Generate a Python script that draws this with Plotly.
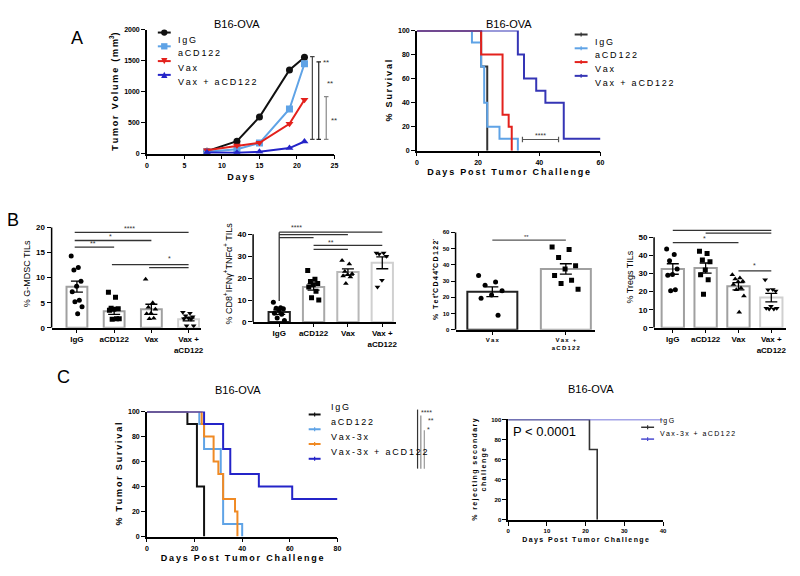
import plotly.graph_objects as go

W, H = 800, 576
FONT = "Liberation Sans"

# ---------------- data ----------------
# A (left): tumour volume
a_days = [8, 12, 15, 19, 21]
a_igg = [40, 200, 590, 1350, 1555]
a_cd122 = [30, 70, 170, 720, 1450]
a_vax = [55, 130, 175, 480, 870]
a_vaxcd122 = [20, 15, 30, 90, 195]

# A (right): survival steps
sa_igg_t, sa_igg_s = [0, 21, 23], [100, 70, 0]
sa_cd122_t, sa_cd122_s = [0, 18, 21, 22, 23, 27, 33], [100, 90, 70, 40, 20, 10, 0]
sa_vax_t, sa_vax_s = [0, 21, 28, 30, 31], [100, 80, 30, 20, 0]
sa_vc_t, sa_vc_s = [0, 33, 35, 39, 42, 48, 60], [100, 80, 60, 50, 40, 10, 10]

# B panels
cats4 = ["IgG", "aCD122", "Vax", "Vax +<br>aCD122"]
cats2 = ["Vax", "Vax +<br>aCD122"]

b1_mean = [8.2, 3.3, 3.7, 1.7]
b1_sem = [1.1, 0.6, 1.0, 0.3]
b1_pts = [[14.3, 12.0, 11.5, 9.3, 8.3, 7.2, 5.5, 5.2, 4.2, 2.8],
          [7.1, 6.1, 3.9, 3.8, 3.7, 3.5, 1.8, 1.7, 1.8],
          [9.7, 5.0, 4.1, 3.7, 2.9, 2.8, 1.9, 1.8],
          [3.1, 2.9, 2.4, 2.2, 2.0, 1.8, 1.7, 0.4, 0.4]]

b2_mean = [4.5, 16.0, 22.8, 27.0]
b2_sem = [1.0, 1.5, 1.4, 2.7]
b2_pts = [[9.0, 6.5, 6.2, 6.0, 5.5, 4.0, 3.5, 1.8, 0.7],
          [23.5, 19.5, 18.5, 17.5, 17.0, 16.0, 14.0, 11.0, 10.0],
          [28.0, 26.5, 23.0, 22.0, 21.5, 21.0, 20.5, 17.5],
          [31.5, 31.5, 31.0, 30.0, 19.0, 16.0]]

b3_mean = [23.5, 37.5]
b3_sem = [3.0, 3.2]
b3_pts = [[33.5, 29.5, 27.5, 24.0, 21.5, 19.5, 9.0],
          [51.0, 49.5, 44.5, 39.5, 37.5, 33.5, 30.5, 28.5, 25.0]]

b4_mean = [32.5, 33.0, 23.0, 16.7]
b4_sem = [2.9, 2.8, 2.0, 2.3]
b4_pts = [[43.5, 40.5, 37.0, 32.5, 29.5, 29.0, 21.0, 20.5],
          [42.3, 41.0, 37.4, 36.5, 32.0, 29.3, 26.6, 18.5],
          [29.3, 27.5, 27.0, 25.7, 25.5, 24.0, 22.0, 21.0, 17.6, 8.6],
          [26.6, 21.2, 21.0, 20.3, 11.9, 10.8, 10.4, 10.4, 10.8]]

# C (left): survival steps
sc_igg_t, sc_igg_s = [0, 17, 21, 24], [100, 90, 40, 0]
sc_cd122_t, sc_cd122_s = [0, 22, 24, 31, 32, 40], [100, 90, 70, 50, 10, 0]
sc_vax_t, sc_vax_s = [0, 23, 24, 28, 30, 32, 37, 38], [100, 90, 80, 60, 50, 30, 20, 0]
sc_vc_t, sc_vc_s = [0, 24, 32, 35, 47, 61, 80], [100, 90, 70, 50, 40, 30, 30]

# C (right)
sd_igg_t, sd_igg_s = [0, 21, 23], [100, 70, 0]
sd_vc_t, sd_vc_s = [0, 40], [100, 100]

BLACK = "#111111"
LBLUE = "#5fa3e6"
RED = "#e3211c"
BLUE = "#2424c8"
DBLUE = "#3535b5"
ORANGE = "#f08a24"


def sp(s):
    # prism-like letter spacing, keeps <br> intact
    return "<br>".join("\u2009".join(part) for part in s.split("<br>"))


def px(x):
    return x / W


def py(y):
    return 1 - y / H


def dx(a, b):
    return [px(a), px(b)]


def dy(top, bottom):
    return [py(bottom), py(top)]


def bdom(y0px, ymaxpx, ymax, ext):
    k = (y0px - ymaxpx) / ymax
    return dy(y0px - k * ext, y0px)


def jitter(n, spread):
    return [((i * 0.618) % 1 - 0.5) * spread for i in range(n)]


fig = go.Figure()

# ---------- A left ----------
a_series = [("IgG", a_igg, BLACK, "circle"),
            ("aCD122", a_cd122, LBLUE, "square"),
            ("Vax", a_vax, RED, "triangle-down"),
            ("Vax + aCD122", a_vaxcd122, BLUE, "triangle-up")]
for name, y, c, sym in a_series:
    fig.add_trace(go.Scatter(x=a_days, y=y, name=name, mode="lines+markers",
                             line=dict(color=c, width=2), marker=dict(color=c, size=7, symbol=sym),
                             xaxis="x", yaxis="y", showlegend=False))

# ---------- A right ----------
sa_series = [("IgG", sa_igg_t, sa_igg_s, "#333333"),
             ("aCD122", sa_cd122_t, sa_cd122_s, LBLUE),
             ("Vax", sa_vax_t, sa_vax_s, RED),
             ("Vax + aCD122", sa_vc_t, sa_vc_s, DBLUE)]
for name, t, s, c in sa_series:
    fig.add_trace(go.Scatter(x=t, y=s, name=name, mode="lines", line=dict(color=c, width=2, shape="hv"),
                             xaxis="x2", yaxis="y2", showlegend=False))

# ---------- B panels ----------
syms4 = ["circle", "square", "triangle-up", "triangle-down"]
b_panels = [
    (3, cats4, b1_mean, b1_sem, b1_pts, ["#a0a0a0", "#a0a0a0", "#a0a0a0", "#d0d0d0"], syms4, 0.56),
    (4, cats4, b2_mean, b2_sem, b2_pts, ["#222222", "#a8a8a8", "#b8b8b8", "#d0d0d0"], syms4, 0.62),
    (5, cats2, b3_mean, b3_sem, b3_pts, ["#222222", "#a0a0a0"], ["circle", "square"], 0.68),
    (6, cats4, b4_mean, b4_sem, b4_pts, ["#a0a0a0", "#a0a0a0", "#a0a0a0", "#d0d0d0"], syms4, 0.68),
]
for k, cats, mean, sem, pts, outl, syms, bw in b_panels:
    xs = list(range(len(cats)))
    fig.add_trace(go.Bar(x=xs, y=mean, width=bw, marker=dict(color="white", line=dict(color=outl, width=2)),
                         error_y=dict(type="data", array=sem, color="black", thickness=1.3, width=6),
                         xaxis=f"x{k}", yaxis=f"y{k}", showlegend=False))
    for i, p in enumerate(pts):
        jx = [i + j for j in jitter(len(p), bw * 0.55)]
        fig.add_trace(go.Scatter(x=jx, y=p, mode="markers",
                                 marker=dict(color="black", size=5, symbol=syms[i]),
                                 xaxis=f"x{k}", yaxis=f"y{k}", showlegend=False))

# ---------- C left ----------
sc_series = [("IgG", sc_igg_t, sc_igg_s, BLACK),
             ("aCD122", sc_cd122_t, sc_cd122_s, LBLUE),
             ("Vax-3x", sc_vax_t, sc_vax_s, ORANGE),
             ("Vax-3x + aCD122", sc_vc_t, sc_vc_s, BLUE)]
for name, t, s, c in sc_series:
    fig.add_trace(go.Scatter(x=t, y=s, name=name, mode="lines", line=dict(color=c, width=2, shape="hv"),
                             xaxis="x7", yaxis="y7", showlegend=False))

# ---------- C right ----------
sd_series = [("IgG", sd_igg_t, sd_igg_s, "#333333"),
             ("Vax-3x + aCD122", sd_vc_t, sd_vc_s, "#4a4ad0")]
for name, t, s, c in sd_series:
    fig.add_trace(go.Scatter(x=t, y=s, name=name, mode="lines", line=dict(color=c, width=1.6, shape="hv"),
                             xaxis="x8", yaxis="y8", showlegend=False))

# ---------- axes ----------
tickf = dict(family=FONT, size=7, color="black", weight="bold")
titlef = dict(family=FONT, size=9, color="black", weight="bold")
base = dict(showgrid=False, zeroline=False, showline=True, linecolor="black", linewidth=1.5,
            ticks="outside", ticklen=4, tickwidth=1.2, tickcolor="black", tickfont=tickf)

lay = {}
lay["xaxis"] = dict(base, domain=dx(146, 335), range=[0, 25], tickvals=[0, 5, 10, 15, 20, 25], anchor="y",
                    title=dict(text=sp("Days"), font=titlef, standoff=6))
lay["yaxis"] = dict(base, domain=dy(26, 152), range=[0, 2000], tickvals=[0, 500, 1000, 1500, 2000], anchor="x",
                    title=dict(text=sp("Tumor Volume (mm") + "<sup>3</sup>)", font=titlef, standoff=4))
lay["xaxis2"] = dict(base, domain=dx(418, 603), range=[0, 60], tickvals=[0, 20, 40, 60], anchor="y2",
                     title=dict(text=sp("Days Post Tumor Challenge"), font=titlef, standoff=4))
lay["yaxis2"] = dict(base, domain=dy(27, 149), range=[0, 100], tickvals=[0, 20, 40, 60, 80, 100], anchor="x2",
                     title=dict(text=sp("% Survival"), font=titlef, standoff=4))

b_geo = [
    (3, dx(50, 200), bdom(329, 227, 20, 21.5), [-0.68, 3.32], [0, 21.5], [0, 5, 10, 15, 20], 20, cats4,
     "% G-MDSC TILs"),
    (4, dx(253, 397), bdom(323, 234, 40, 44), [-0.76, 3.4], [0, 44], [0, 10, 20, 30, 40], 40, cats4,
     "% CD8<sup>+</sup>IFNγ<sup>+</sup>TNFα<sup>+</sup> TILs"),
    (5, dx(457, 597), bdom(331, 232, 60, 62), [-0.5, 1.39], [0, 62], [0, 10, 20, 30, 40, 50, 60], 60, cats2,
     sp("% Tet") + "<sup>+</sup>" + sp("CD44") + "<sup>+</sup>" + sp("CD122") + "<sup>-</sup>"),
    (6, dx(657, 790), bdom(329, 237, 50, 56), [-0.57, 3.45], [0, 56], [0, 10, 20, 30, 40, 50], 50, cats4,
     "% Tregs TILs"),
]
shapes = []
for k, xd, yd, xr, yr, tv, ymax, cats, ytitle in b_geo:
    small = k == 5
    xf = dict(family=FONT, size=6 if small else 8, color="black", weight="bold")
    lay[f"xaxis{k}"] = dict(base, domain=xd, range=xr, tickvals=list(range(len(cats))),
                            ticktext=[sp(c) if small else c for c in cats], tickfont=xf, ticklen=3, anchor=f"y{k}")
    lay[f"yaxis{k}"] = dict(base, domain=yd, range=yr, tickvals=tv, showline=False, anchor=f"x{k}",
                            tickfont=dict(family=FONT, size=6 if small else 8, color="black", weight="bold"),
                            title=dict(text=ytitle, font=dict(family=FONT, size=7 if small else 9, color="black",
                                                              weight="bold" if small else "normal"), standoff=3))
    shapes.append(dict(type="line", xref=f"x{k} domain", yref=f"y{k}", x0=0, x1=0, y0=0, y1=ymax,
                       line=dict(color="black", width=1.5)))

lay["xaxis7"] = dict(base, domain=dx(146, 338), range=[0, 80], tickvals=[0, 20, 40, 60, 80], anchor="y7",
                     title=dict(text=sp("Days Post Tumor Challenge"), font=titlef, standoff=4))
lay["yaxis7"] = dict(base, domain=dy(414, 541), range=[0, 100], tickvals=[0, 20, 40, 60, 80, 100], anchor="x7",
                     title=dict(text=sp("% Tumor Survival"), font=titlef, standoff=4))
lay["xaxis8"] = dict(base, domain=dx(510, 666), range=[0, 40], tickvals=[0, 10, 20, 30, 40], anchor="y8",
                     tickfont=dict(tickf, size=6), title=dict(text=sp("Days Post Tumor Challenge"),
                                                              font=dict(titlef, size=7), standoff=4))
lay["yaxis8"] = dict(base, domain=dy(422, 524), range=[0, 100], tickvals=[0, 20, 40, 60, 80, 100], anchor="x8",
                     tickfont=dict(tickf, size=6),
                     title=dict(text=sp("% rejecting secondary") + "<br>" + sp("challenge"),
                                font=dict(titlef, size=7), standoff=4))

# ---------- significance marks ----------
ann = []
GR = "#555555"


def line(xref, yref, x0, y0, x1, y1, color=GR, w=1.2):
    shapes.append(dict(type="line", xref=xref, yref=yref, x0=x0, y0=y0, x1=x1, y1=y1,
                       line=dict(color=color, width=w)))


def txt(xref, yref, x, y, t, size=8, color="#333333", xanchor="center"):
    ann.append(dict(xref=xref, yref=yref, x=x, y=y, text=t, showarrow=False, xanchor=xanchor,
                    font=dict(family=FONT, size=size, color=color)))


# A left brackets
for xb, ytop, col in [(22.05, 1565, "#444444"), (22.9, 1480, "#222222"), (23.9, 920, "#888888")]:
    line("x", "y", xb, 230, xb, ytop, col)
    line("x", "y", xb - 0.3, ytop, xb + 0.3, ytop, col)
    line("x", "y", xb - 0.3, 230, xb + 0.3, 230, col)
txt("x", "y", 23.9, 1470, "**")
txt("x", "y", 24.4, 1130, "**")
txt("x", "y", 25.0, 540, "**")

# A right bracket
line("x2", "y2", 34.5, 9.3, 46.3, 9.3)
line("x2", "y2", 34.5, 7, 34.5, 11.6)
line("x2", "y2", 46.3, 7, 46.3, 11.6)
txt("x2", "y2", 40.4, 13, "****", 7)

# B1
for x0, x1, y in [(0, 3, 19.0), (0, 2, 17.4), (0, 1, 16.1), (1, 3, 12.6), (2, 3, 12.0)]:
    line("x3", "y3", x0 - 0.06, y, x1, y, "#333333", 1.3)
txt("x3", "y3", 1.4, 19.8, "****", 7)
txt("x3", "y3", 0.9, 18.2, "*", 7)
txt("x3", "y3", 0.43, 16.8, "**", 7)
txt("x3", "y3", 2.5, 13.8, "*", 7)

# B2
for x0, x1, y in [(0, 3, 41.0), (0, 2, 39.9), (0, 1, 38.5), (1, 3, 35.0), (1, 2, 33.1)]:
    line("x4", "y4", x0, y, x1, y, "#333333", 1.3)
line("x4", "y4", 0, 9.6, 0, 41.0, "#333333", 1.3)
txt("x4", "y4", 0.5, 43.2, "****", 7)
txt("x4", "y4", 1.52, 36.4, "**", 7)

# B3
line("x5", "y5", 0, 55.2, 1, 55.2, "#555555", 1.3)
txt("x5", "y5", 0.46, 57.0, "**", 6)

# B4
for x0, x1, y in [(0, 3, 53.8), (1, 3, 52.3), (0, 2, 47.1), (2, 3, 31.5)]:
    line("x6", "y6", x0, y, x1, y, "#333333", 1.3)
txt("x6", "y6", 2.09, 56.5, "***", 7)
txt("x6", "y6", 0.98, 49.6, "*", 7)
txt("x6", "y6", 2.5, 34.2, "*", 7)

# C left (outside, paper coords)
for xp, yt, col in [(418.7, 412, "#333333"), (422, 418, "#888888"), (425.5, 433, "#999999")]:
    line("paper", "paper", px(xp), py(yt), px(xp), py(472), col, 1.2)
txt("paper", "paper", px(428), py(421), "****", 7)
txt("paper", "paper", px(432), py(429), "**", 7)
txt("paper", "paper", px(430), py(438), "*", 7)

# P value C right
txt("x8", "y8", 9.4, 88, "P < 0.0001", 13, "black")

# titles and panel letters
for x, y, t in [(237, 12, "B16-OVA"), (511, 12, "B16-OVA"), (238, 400, "B16-OVA"), (593, 399, "B16-OVA")]:
    txt("paper", "paper", px(x), py(y), t, 11, "black")
for x, y, t in [(76, 22, "A"), (11, 219, "B"), (62, 391, "C")]:
    txt("paper", "paper", px(x), py(y), t, 18, "black")


# ---------- hand-drawn legends (compact, prism style) ----------
def marker_shape(cx, cy, sym, color, r=3.2):
    if sym == "circle":
        shapes.append(dict(type="circle", xref="paper", yref="paper", x0=px(cx - r), x1=px(cx + r),
                           y0=py(cy + r), y1=py(cy - r), fillcolor=color, line=dict(width=0)))
    elif sym == "square":
        shapes.append(dict(type="rect", xref="paper", yref="paper", x0=px(cx - r), x1=px(cx + r),
                           y0=py(cy + r), y1=py(cy - r), fillcolor=color, line=dict(width=0)))
    else:
        s = 1 if sym == "triangle-up" else -1
        path = (f"M{px(cx - r)},{py(cy + s * r)} L{px(cx + r)},{py(cy + s * r)} "
                f"L{px(cx)},{py(cy - s * r)} Z")
        shapes.append(dict(type="path", xref="paper", yref="paper", path=path, fillcolor=color,
                           line=dict(width=0)))


def legend(items, x0, x1, xt, ys, size, sym_idx=None):
    for i, it in enumerate(items):
        name, color = it[0], it[-1] if sym_idx is None else it[2]
        y = ys[i]
        line("paper", "paper", px(x0), py(y), px(x1), py(y), color, 2 if size > 8 else 1.5)
        if sym_idx is None:
            cx = (x0 + x1) / 2
            line("paper", "paper", px(cx), py(y - 2), px(cx), py(y + 2), color, 1.2)
        else:
            marker_shape((x0 + x1) / 2, y, it[3], color)
        txt("paper", "paper", px(xt), py(y), sp(name), size, "black", "left")


legend([(n, None, c, s) for n, _, c, s in a_series], 157, 170, 175, [29, 43, 58, 72], 9, sym_idx=True)
legend([(n, c) for n, _, _, c in sa_series], 577, 590, 595, [31, 45, 59, 73], 9)
legend([(n, c) for n, _, _, c in sc_series], 309, 321, 329, [417, 432, 447, 462], 9)
legend([(n, c) for n, _, _, c in sd_series], 644, 657, 661, [430, 442], 7)

fig.update_layout(
    width=W, height=H, margin=dict(l=0, r=0, t=0, b=0),
    plot_bgcolor="white", paper_bgcolor="white",
    font=dict(family=FONT, color="black"),
    shapes=shapes, annotations=ann, barmode="overlay", showlegend=False,
    **lay,
)

fig.write_html("out.html", config={"displayModeBar": False},
               post_script="document.body.style.margin='0';")
